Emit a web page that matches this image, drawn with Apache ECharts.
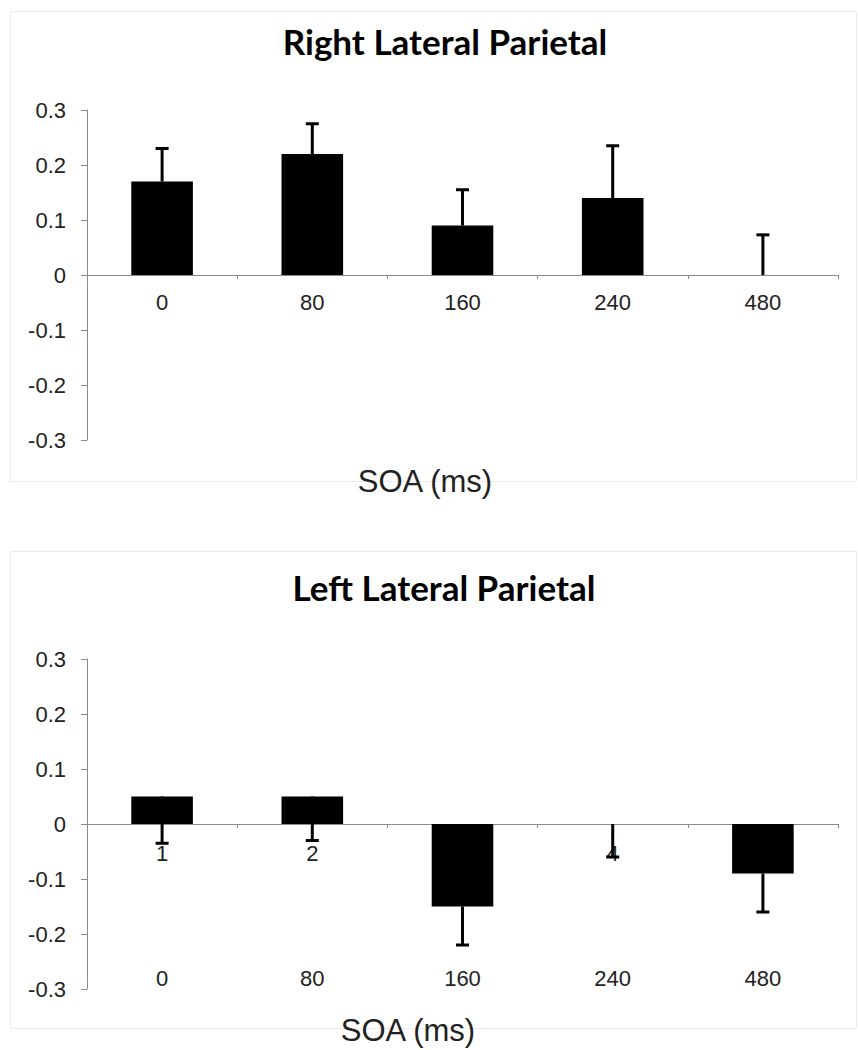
<!DOCTYPE html>
<html>
<head>
<meta charset="utf-8">
<script src="https://cdn.jsdelivr.net/npm/echarts@6/dist/echarts.min.js"></script>
<style>
html,body{margin:0;padding:0;background:#fff;}
#chart{width:858px;height:1050px;}
</style>
</head>
<body>
<div id="chart"></div>
<script>
// ---- data ----
const categories = ['0', '80', '160', '240', '480'];
const leftAxisCategoryLabels = ['1', '2', '3', '4', '5'];
const panelTitles = ['Right Lateral Parietal', 'Left Lateral Parietal'];
const xAxisTitle = 'SOA (ms)';
const yMin = -0.3, yMax = 0.3, yStep = 0.1;

const rightMeans = [0.17, 0.22, 0.09, 0.14, 0];
const rightErrors = [0.06, 0.055, 0.065, 0.095, 0.073];   // drawn upward
const leftMeans = [0.05, 0.05, -0.15, 0, -0.09];
const leftErrors = [0.085, 0.08, 0.07, 0.06, 0.07];       // drawn downward

// ---- styling ----
const FONT = "Liberation Sans";
const axisGray = '#8a8a8a';
const textColor = '#222';
const GRID_H = 330;
const zeroOffset = -GRID_H * (0 - yMin) / (yMax - yMin); // moves the category axis up to y = 0

function errorRenderer(dir) {
  return function (params, api) {
    const x = api.value(0), v = api.value(1), e = api.value(2);
    const p0 = api.coord([x, v]);
    const p1 = api.coord([x, v + dir * e]);
    const hw = 6.5;
    return {
      type: 'group',
      children: [
        { type: 'line', shape: { x1: p0[0], y1: p0[1], x2: p1[0], y2: p1[1] }, style: { stroke: '#000', lineWidth: 3 } },
        { type: 'line', shape: { x1: p1[0] - hw, y1: p1[1], x2: p1[0] + hw, y2: p1[1] }, style: { stroke: '#000', lineWidth: 3 } }
      ]
    };
  };
}

function valueAxis(gridIndex) {
  return {
    type: 'value', gridIndex: gridIndex, min: yMin, max: yMax, interval: yStep,
    axisLine: { show: true, lineStyle: { color: axisGray, width: 1 } },
    axisTick: { show: true, length: 6, lineStyle: { color: axisGray } },
    splitLine: { show: false },
    axisLabel: {
      margin: 21, fontSize: 22, fontFamily: FONT, color: textColor,
      formatter: function (v) { return String(Math.round(v * 10) / 10); }
    }
  };
}

function catAxis(gridIndex, data, margin) {
  return {
    type: 'category', gridIndex: gridIndex, data: data, position: 'bottom', offset: zeroOffset,
    axisLine: { show: true, onZero: false, lineStyle: { color: axisGray, width: 1 } },
    axisTick: { show: true, length: 4, lineStyle: { color: axisGray } },
    axisLabel: { margin: margin, fontSize: 22, fontFamily: FONT, color: textColor, interval: 0 },
    splitLine: { show: false }
  };
}

const chart = echarts.init(document.getElementById('chart'), null, { renderer: 'svg', width: 858, height: 1050 });

const option = {
  backgroundColor: '#fff',
  animation: false,
  grid: [
    { left: 87, top: 110, width: 751, height: GRID_H },
    { left: 87, top: 659, width: 751, height: GRID_H }
  ],
  xAxis: [
    catAxis(0, categories, 16),
    catAxis(1, leftAxisCategoryLabels, 18),
    {
      type: 'category', gridIndex: 1, data: categories, position: 'bottom', offset: -30,
      axisLine: { show: false, onZero: false }, axisTick: { show: false }, splitLine: { show: false },
      axisLabel: { margin: 8, fontSize: 22, fontFamily: FONT, color: textColor, interval: 0 }
    }
  ],
  yAxis: [valueAxis(0), valueAxis(1)],
  series: [
    { type: 'bar', xAxisIndex: 0, yAxisIndex: 0, data: rightMeans, barWidth: '41%', itemStyle: { color: '#000' }, z: 3 },
    { type: 'custom', xAxisIndex: 0, yAxisIndex: 0, renderItem: errorRenderer(1), z: 4,
      encode: { x: 0, y: 1 },
      data: rightMeans.map(function (m, i) { return [i, m, rightErrors[i]]; }) },
    { type: 'bar', xAxisIndex: 1, yAxisIndex: 1, data: leftMeans, barWidth: '41%', itemStyle: { color: '#000' }, z: 3 },
    { type: 'custom', xAxisIndex: 1, yAxisIndex: 1, renderItem: errorRenderer(-1), z: 4,
      encode: { x: 0, y: 1 },
      data: leftMeans.map(function (m, i) { return [i, m, leftErrors[i]]; }) }
  ],
  graphic: [
    { type: 'rect', z: -1, shape: { x: 10.5, y: 11.5, width: 846, height: 470 }, style: { fill: 'none', stroke: '#ececec', lineWidth: 1 } },
    { type: 'rect', z: -1, shape: { x: 10.5, y: 551.5, width: 846, height: 477 }, style: { fill: 'none', stroke: '#ececec', lineWidth: 1 } },
    { type: 'text', x: 445, y: 41, style: { text: panelTitles[0], font: "bold 35px Lato", fill: '#000', textAlign: 'center', textVerticalAlign: 'middle' } },
    { type: 'text', x: 444, y: 587, style: { text: panelTitles[1], font: "bold 35px Lato", fill: '#000', textAlign: 'center', textVerticalAlign: 'middle' } },
    { type: 'text', x: 425, y: 481, style: { text: xAxisTitle, font: "31px Liberation Sans", fill: textColor, textAlign: 'center', textVerticalAlign: 'middle' } },
    { type: 'text', x: 408, y: 1030, style: { text: xAxisTitle, font: "31px Liberation Sans", fill: textColor, textAlign: 'center', textVerticalAlign: 'middle' } }
  ]
};
chart.setOption(option);
</script>
</body>
</html>
